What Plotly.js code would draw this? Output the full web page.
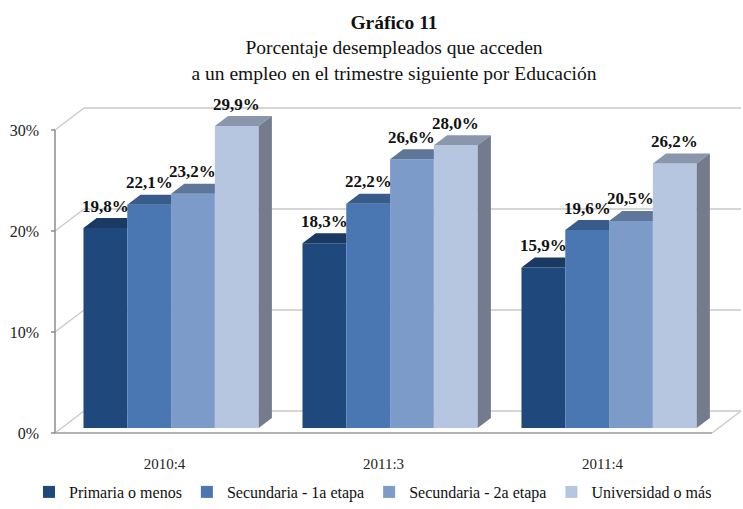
<!DOCTYPE html>
<html>
<head>
<meta charset="utf-8">
<script src="https://cdn.plot.ly/plotly-3.0.1.min.js"></script>
<style>html,body{margin:0;padding:0;background:#fff;}#chart{width:743px;height:509px;}</style>
</head>
<body>
<div id="chart"></div>
<script>
// ---------- data ----------
const categories = ['2010:4', '2011:3', '2011:4'];
const seriesNames = ['Primaria o menos', 'Secundaria - 1a etapa', 'Secundaria - 2a etapa', 'Universidad o más'];
const primaria = [19.8, 18.3, 15.9];
const secundaria1 = [22.1, 22.2, 19.6];
const secundaria2 = [23.2, 26.6, 20.5];
const universidad = [29.9, 28.0, 26.2];
const yTicks = [0, 10, 20, 30];
const yTickLabels = ['0%', '10%', '20%', '30%'];
const titleLines = ['Gráfico 11', 'Porcentaje desempleados que acceden', 'a un empleo en el trimestre siguiente por Educación'];

// ---------- style ----------
const frontColors = ['#1F497D', '#4A76B1', '#7C9BC9', '#B6C5E0'];
const topColors = ['#1A3A63', '#375B8A', '#5F769B', '#8A96AC'];
const sideColors = ['#17345A', '#2F5078', '#55698A', '#737B8C'];
const FONT = '"Liberation Serif", "Times New Roman", serif';

// ---------- geometry (oblique 3D projection) ----------
const W = 743, H = 509;
const PADL = 6, PADB = 3;
const ML = 55 - PADL, MR = 1, MT = 105, MB = 76 - PADB;
const DXpx = 29, DYpx = 22;            // full floor depth offset in pixels
const u = (W - ML - MR - PADL - DXpx - 1) / 3;   // px per category unit
const yPx = 10.1;                       // px per percentage point
const DX = DXpx / u, DY = DYpx / yPx;   // depth offset in data units
const D0 = 0.227, BD = 0.455;           // bar front depth, bar depth (fractions)
const xMin = -0.5 - PADL / u, xMax = 2.5 + (DXpx + 1) / u;
const yMin = -PADB / yPx, yMax = (H - MB - MT) / yPx + yMin;
const barW = 0.2;

const series = [primaria, secundaria1, secundaria2, universidad];
const xIdx = categories.map((c, i) => i);
const base0 = D0 * DY, shift0 = D0 * DX;
const ddx = BD * DX, ddy = BD * DY;

const traces = [];
// front faces: real bar traces
series.forEach((vals, s) => {
  traces.push({
    type: 'bar', name: seriesNames[s], x: xIdx, y: vals,
    base: vals.map(() => base0),
    offset: -0.4 + s * barW + shift0, width: barW,
    marker: { color: frontColors[s], line: { width: 0 } },
    hoverinfo: 'skip', showlegend: true
  });
});
// top faces and visible side faces computed from the same values
series.forEach((vals, s) => {
  const tx = [], ty = [], sx = [], sy = [];
  vals.forEach((v, g) => {
    const xL = g - 0.4 + s * barW + shift0, xR = xL + barW, yT = v + base0;
    const next = s < series.length - 1 ? series[s + 1][g] : null;
    if (next !== null && next >= v) {
      tx.push(xL, xR, xR, xL + ddx, null);
      ty.push(yT, yT, yT + ddy, yT + ddy, null);
    } else {
      tx.push(xL, xR, xR + ddx, xL + ddx, null);
      ty.push(yT, yT, yT + ddy, yT + ddy, null);
      const yB = next === null ? base0 : next + base0;
      sx.push(xR, xR, xR + ddx, xR + ddx, null);
      sy.push(yB, yT, yT + ddy, yB + ddy, null);
    }
  });
  traces.push({ type: 'scatter', mode: 'lines', x: tx, y: ty, fill: 'toself',
    fillcolor: topColors[s], line: { width: 0, color: topColors[s] }, hoverinfo: 'skip', showlegend: false });
  if (sx.length) traces.push({ type: 'scatter', mode: 'lines', x: sx, y: sy, fill: 'toself',
    fillcolor: sideColors[s], line: { width: 0, color: sideColors[s] }, hoverinfo: 'skip', showlegend: false });
});

// value labels
const annotations = [];
series.forEach((vals, s) => {
  vals.forEach((v, g) => {
    annotations.push({
      xref: 'x', yref: 'y', x: g - 0.4 + s * barW + shift0 + barW / 2, y: v + base0,
      text: '<b>' + v.toFixed(1).replace('.', ',') + '%</b>', showarrow: false,
      xanchor: 'center', yanchor: 'middle', yshift: 22,
      font: { family: FONT, size: 17, color: '#111' }
    });
  });
});

// walls, floor, axis line and ticks
const light = { color: '#c8c8c8', width: 1.3 };
const dark = { color: '#8c8c8c', width: 1.5 };
const shapes = [];
const yTop = yTicks[yTicks.length - 1];
yTicks.forEach(t => {
  shapes.push({ type: 'line', xref: 'x', yref: 'y', x0: -0.5 + DX, x1: 2.5 + DX, y0: t + DY, y1: t + DY, line: light, layer: 'below' });
  shapes.push({ type: 'line', xref: 'x', yref: 'y', x0: -0.5, x1: -0.5 + DX, y0: t, y1: t + DY, line: light, layer: 'below' });
  shapes.push({ type: 'line', xref: 'x', yref: 'y', x0: -0.5 - 4 / u, x1: -0.5, y0: t, y1: t, line: dark, layer: 'below' });
});
shapes.push({ type: 'line', xref: 'x', yref: 'y', x0: -0.5, x1: -0.5, y0: 0, y1: yTop, line: dark, layer: 'below' });
shapes.push({ type: 'line', xref: 'x', yref: 'y', x0: -0.5, x1: 2.5, y0: 0, y1: 0, line: { color: '#9a9a9a', width: 1.4 }, layer: 'below' });
shapes.push({ type: 'line', xref: 'x', yref: 'y', x0: 2.5, x1: 2.5 + DX, y0: 0, y1: DY, line: light, layer: 'below' });

const layout = {
  width: W, height: H,
  font: { family: FONT, color: '#111' },
  margin: { l: ML, r: MR, t: MT, b: MB, pad: 0 },
  paper_bgcolor: '#fff', plot_bgcolor: 'rgba(0,0,0,0)',
  barmode: 'overlay',
  title: {
    text: '<b>' + titleLines[0] + '</b><br>' + titleLines[1] + '<br>' + titleLines[2],
    font: { family: FONT, size: 19.5, color: '#111' },
    xref: 'container', x: 394 / W, xanchor: 'center',
    yref: 'container', y: 1 - 29 / H, yanchor: 'top'
  },
  xaxis: {
    range: [xMin, xMax], tickvals: xIdx, ticktext: categories,
    showgrid: false, zeroline: false, showline: false, ticks: '',
    ticklabelstandoff: 17,
    tickfont: { family: FONT, size: 15, color: '#222' }, fixedrange: true
  },
  yaxis: {
    range: [yMin, yMax], tickvals: yTicks, ticktext: yTickLabels,
    showgrid: false, zeroline: false, showline: false, ticks: '',
    ticklabelstandoff: 9,
    tickfont: { family: FONT, size: 16, color: '#222' }, fixedrange: true
  },
  legend: {
    orientation: 'h', xref: 'container', yref: 'container',
    x: 29 / W, xanchor: 'left', y: -0.01, yanchor: 'bottom',
    font: { family: FONT, size: 16, color: '#111' },
    traceorder: 'normal', itemwidth: 30
  },
  shapes: shapes,
  annotations: annotations,
  showlegend: true
};

Plotly.newPlot('chart', traces, layout, { displayModeBar: false, staticPlot: true });
</script>
</body>
</html>
